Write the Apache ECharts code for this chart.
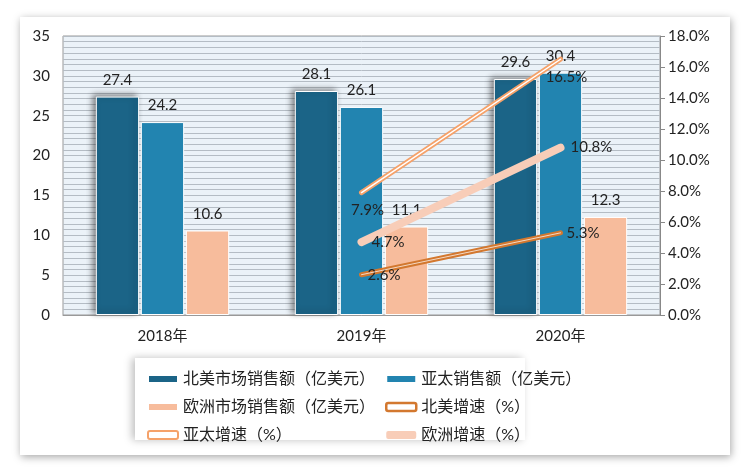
<!DOCTYPE html>
<html><head><meta charset="utf-8">
<script src="https://cdn.jsdelivr.net/npm/echarts@6/dist/echarts.min.js"></script>
<style>html,body{margin:0;padding:0;background:#fff}#c{width:750px;height:474px}</style>
</head><body><div id="c"></div>
<script>
const categories = ['2018年', '2019年', '2020年'];
const naSales = [27.4, 28.1, 29.6];
const apSales = [24.2, 26.1, 30.4];
const euSales = [10.6, 11.1, 12.3];
const naGrowth = [null, 2.6, 5.3];
const apGrowth = [null, 7.9, 16.5];
const euGrowth = [null, 4.7, 10.8];
const leftTicks = {min: 0, max: 35, interval: 5};
const rightTicks = {min: 0, max: 18, interval: 2};

const FONT = 'Lato, "Noto Sans CJK SC", sans-serif';
const C = {na: '#1B6487', ap: '#2284B0', eu: '#F7BC9C', nag: '#D3782F', apg: '#F5A26A', eug: '#F8CDB8'};
const chart = echarts.init(document.getElementById('c'));
const fmtPct = p => p.value == null ? '' : p.value.toFixed(1) + '%';
const pctLabel = (pos, offset) => ({show: true, position: pos, distance: 6, fontSize: 15, fontFamily: FONT, color: '#222',
  offset: offset || [0, 0], formatter: fmtPct});
const barLabel = {show: true, position: 'top', distance: 9, fontSize: 15, fontFamily: FONT, color: '#222'};
const legText = {fontSize: 16, fontFamily: FONT, color: '#222'};
chart.setOption({
  animation: false,
  textStyle: {fontFamily: FONT},
  graphic: [
    {type: 'rect', shape: {x: 20, y: 17, width: 710, height: 438}, z: -10,
     style: {fill: '#fff', shadowBlur: 8, shadowColor: 'rgba(0,0,0,0.35)', shadowOffsetX: 1, shadowOffsetY: 2}},
    {type: 'rect', shape: {x: 135, y: 358, width: 390, height: 82}, z: -9,
     style: {fill: '#fff', shadowBlur: 8, shadowColor: 'rgba(0,0,0,0.25)', shadowOffsetX: -3, shadowOffsetY: 0}}
  ],
  grid: {left: 63, right: 90, top: 36, bottom: 159, show: true, backgroundColor: '#EBF2F8', borderColor: '#999', borderWidth: 1},
  legend: [
    {orient: 'vertical', left: 142, top: 366, itemGap: 12, itemWidth: 30, itemHeight: 8, textStyle: legText,
     data: [
       {name: '北美市场销售额（亿美元）', icon: 'rect'},
       {name: '欧洲市场销售额（亿美元）', icon: 'rect'},
       {name: '亚太增速（%）', icon: 'roundRect', itemStyle: {color: '#fff', borderColor: C.apg, borderWidth: 2}}]},
    {orient: 'vertical', left: 380, top: 366, itemGap: 12, itemWidth: 30, itemHeight: 8, textStyle: legText,
     data: [
       {name: '亚太销售额（亿美元）', icon: 'rect'},
       {name: '北美增速（%）', icon: 'roundRect', itemStyle: {color: '#fff', borderColor: C.nag, borderWidth: 2.5}},
       {name: '欧洲增速（%）', icon: 'roundRect', itemStyle: {color: C.eug}}]}
  ],
  xAxis: {type: 'category', data: categories,
    axisLine: {lineStyle: {color: '#999'}}, axisTick: {show: false},
    axisLabel: {fontSize: 15, color: '#222', margin: 14, fontFamily: FONT}},
  yAxis: [
    {type: 'value', min: leftTicks.min, max: leftTicks.max, interval: leftTicks.interval,
     axisLine: {show: false}, axisTick: {show: false},
     axisLabel: {fontSize: 15, color: '#222', margin: 13, fontFamily: FONT},
     splitLine: {show: true, lineStyle: {color: '#B4BCC4', width: 1}},
     minorTick: {show: false, splitNumber: 7},
     minorSplitLine: {show: true, lineStyle: {color: '#B4BCC4', width: 1}}},
    {type: 'value', min: rightTicks.min, max: rightTicks.max, interval: rightTicks.interval, position: 'right',
     axisLine: {show: true, lineStyle: {color: '#888'}}, axisTick: {show: true, length: 5, lineStyle: {color: '#888'}},
     axisLabel: {fontSize: 15, color: '#222', margin: 8, fontFamily: FONT, formatter: v => v.toFixed(1) + '%'},
     splitLine: {show: false}}
  ],
  series: [
    {name: '北美市场销售额（亿美元）', type: 'bar', data: naSales, barGap: '4%', barCategoryGap: '33%',
     itemStyle: {color: C.na, borderColor: '#fff', borderWidth: 1, shadowBlur: 6, shadowColor: 'rgba(0,0,0,0.45)', shadowOffsetX: -3, shadowOffsetY: -2},
     label: barLabel},
    {name: '亚太销售额（亿美元）', type: 'bar', data: apSales,
     itemStyle: {color: C.ap, borderColor: '#fff', borderWidth: 1}, label: barLabel},
    {name: '欧洲市场销售额（亿美元）', type: 'bar', data: euSales,
     itemStyle: {color: C.eu, borderColor: '#fff', borderWidth: 1}, label: barLabel},
    {name: '北美增速（%）', type: 'line', yAxisIndex: 1, data: naGrowth, symbol: 'circle', symbolSize: 0.1, showSymbol: true, z: 5,
     lineStyle: {color: C.nag, width: 5, cap: 'round'}, itemStyle: {color: C.nag}, label: pctLabel('right')},
    {name: '_na_inner', type: 'line', yAxisIndex: 1, data: naGrowth, symbol: 'none', z: 6, silent: true,
     lineStyle: {color: '#F4D9C4', width: 1, cap: 'round'}, itemStyle: {color: '#fff'}},
    {name: '亚太增速（%）', type: 'line', yAxisIndex: 1, data: apGrowth, symbol: 'circle', symbolSize: 0.1, showSymbol: true, z: 5,
     lineStyle: {color: C.apg, width: 5, cap: 'round'}, itemStyle: {color: C.apg},
     label: pctLabel('bottom', [6, 4])},
    {name: '_ap_inner', type: 'line', yAxisIndex: 1, data: apGrowth, symbol: 'none', z: 6, silent: true,
     lineStyle: {color: '#fff', width: 1.5, cap: 'round'}, itemStyle: {color: '#fff'}},
    {name: '欧洲增速（%）', type: 'line', yAxisIndex: 1, data: euGrowth, symbol: 'circle', symbolSize: 0.1, showSymbol: true, z: 5,
     lineStyle: {color: C.eug, width: 8, cap: 'round'}, itemStyle: {color: C.eug}, label: pctLabel('right', [4, 0])}
  ]
});
</script></body></html>
